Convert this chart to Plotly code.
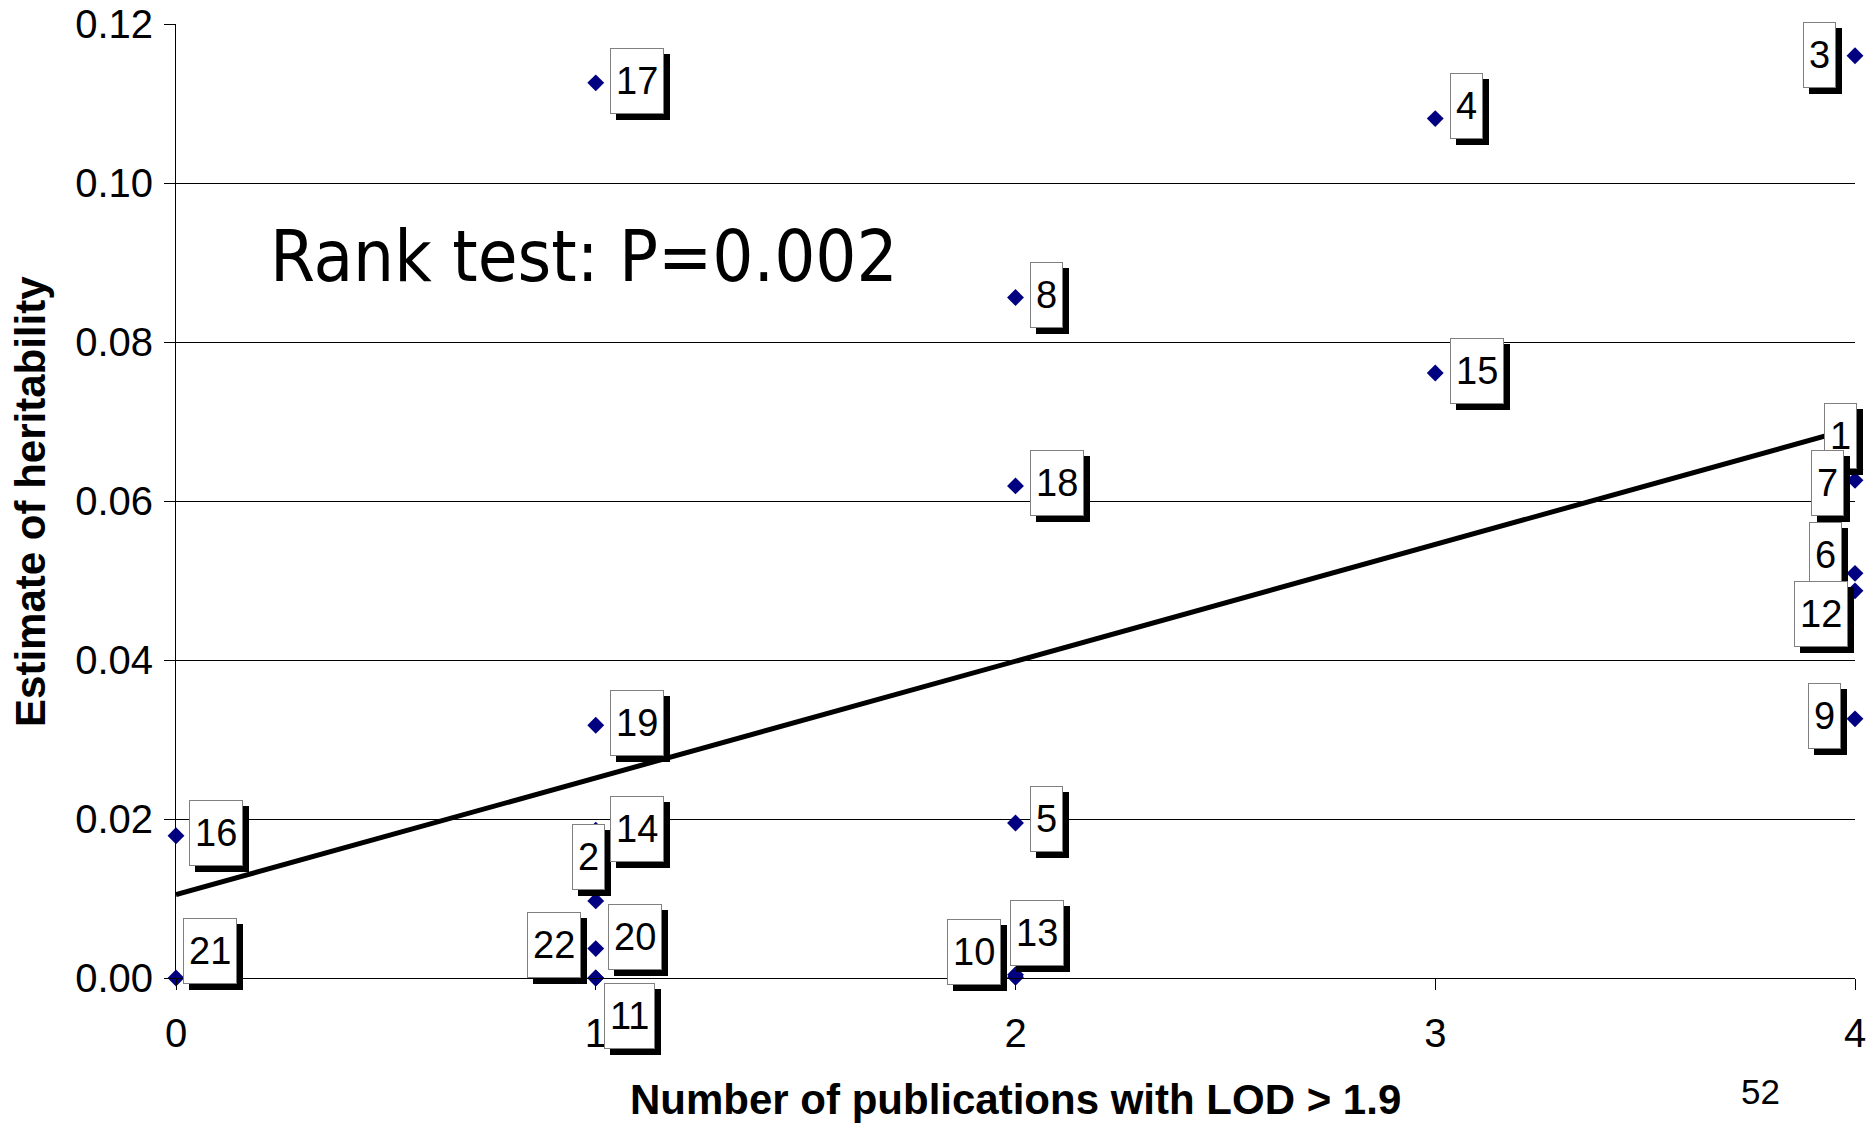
import numpy as np
import plotly.graph_objects as go

# ---------------- data ----------------
ids = [1, 2, 3, 4, 5, 6, 7, 8, 9, 10, 11, 12, 13, 14, 15, 16, 17, 18, 19, 20, 21, 22]
publications = [4, 1, 4, 3, 2, 4, 4, 2, 4, 2, 1, 4, 2, 1, 3, 0, 1, 2, 1, 1, 0, 1]
heritability = [0.0640, 0.0097, 0.1160, 0.1081, 0.0195, 0.0509, 0.0626, 0.0856, 0.0326,
                0.0001, 0.0000, 0.0487, 0.0004, 0.0186, 0.0761, 0.0179, 0.1126, 0.0619,
                0.0318, 0.0037, 0.0000, 0.0000]
x_ticks = [0, 1, 2, 3, 4]
y_ticks = [0.00, 0.02, 0.04, 0.06, 0.08, 0.10, 0.12]
annotation_text = "Rank test: P=0.002"
x_title = "Number of publications with LOD > 1.9"
y_title = "Estimate of heritability"
slide_number = "52"

# ---------------- layout of the data labels (screen px offsets of box centre from point) ----
label_offsets = {
    1: (-15, -33), 2: (-7, -44), 3: (-36, -1), 4: (31, -13), 5: (31, -4),
    6: (-30, -18), 7: (-28, 3), 8: (31, -2), 9: (-31, -3), 10: (-42, -25),
    11: (34, 38), 12: (-34, 23), 13: (21, -42), 14: (41, -1), 15: (42, -2),
    16: (40, -3), 17: (41, -2), 18: (41, -3), 19: (41, -2), 20: (39, -12),
    21: (34, -27), 22: (-42, -33),
}

LABEL_FONT = "Liberation Sans, Arial, sans-serif"

# trend line (ordinary least squares, as Excel's linear trendline)
slope, intercept = np.polyfit(np.array(publications, float), np.array(heritability, float), 1)
trend_x = [min(x_ticks), max(x_ticks)]
trend_y = [intercept + slope * v for v in trend_x]

fig = go.Figure()
fig.add_trace(go.Scatter(
    x=publications, y=heritability, mode="markers",
    marker=dict(symbol="diamond", size=13, color="#000080"),
    cliponaxis=False, showlegend=False, hoverinfo="skip",
))
fig.add_trace(go.Scatter(
    x=trend_x, y=trend_y, mode="lines",
    line=dict(color="black", width=5),
    cliponaxis=False, showlegend=False, hoverinfo="skip",
))

annotations = []
for i, xv, yv in zip(ids, publications, heritability):
    dx, dy = label_offsets[i]
    common = dict(x=xv, y=yv, xref="x", yref="y", text=str(i), showarrow=False,
                  borderwidth=1, borderpad=5, height=54,
                  xanchor="center", yanchor="middle")
    # shadow
    annotations.append(dict(common, font=dict(family=LABEL_FONT, size=38, color="black"),
                            bgcolor="black", bordercolor="black",
                            xshift=dx + 6, yshift=-dy - 6))
    # box
    annotations.append(dict(common, font=dict(family=LABEL_FONT, size=38, color="black"),
                            bgcolor="white", bordercolor="#808080",
                            xshift=dx, yshift=-dy))

annotations.append(dict(
    text=annotation_text, xref="paper", yref="paper", x=0.0546, y=0.757,
    xanchor="left", yanchor="middle", showarrow=False,
    font=dict(family="DejaVu Sans Condensed, DejaVu Sans, sans-serif", size=72, color="black"),
))
annotations.append(dict(
    text="<b>" + x_title + "</b>", xref="paper", yref="paper", x=0.5, y=-0.127,
    xanchor="center", yanchor="middle", showarrow=False,
    font=dict(family=LABEL_FONT, size=42, color="black"),
))
annotations.append(dict(
    text="<b>" + y_title + "</b>", xref="paper", yref="paper", x=-0.087, y=0.5,
    xanchor="center", yanchor="middle", showarrow=False, textangle=-90,
    font=dict(family=LABEL_FONT, size=42, color="black"),
))
annotations.append(dict(
    text=slide_number, xref="paper", yref="paper", x=0.944, y=-0.119,
    xanchor="center", yanchor="middle", showarrow=False,
    font=dict(family=LABEL_FONT, size=35, color="black"),
))

fig.update_layout(
    width=1868, height=1124,
    margin=dict(l=176, r=13, t=24, b=146, autoexpand=False),
    paper_bgcolor="white", plot_bgcolor="white",
    annotations=annotations,
    xaxis=dict(
        range=[0, 4], tickvals=x_ticks, ticktext=[str(v) for v in x_ticks],
        showgrid=False, zeroline=False, showline=True, linecolor="black", linewidth=1,
        ticks="outside", ticklen=11, tickcolor="black", tickwidth=1,
        ticklabelstandoff=9,
        tickfont=dict(family=LABEL_FONT, size=40, color="black"),
    ),
    yaxis=dict(
        range=[0, 0.12], tickvals=y_ticks, ticktext=["%.2f" % v for v in y_ticks],
        showgrid=True, gridcolor="black", gridwidth=1,
        zeroline=False, showline=True, linecolor="black", linewidth=1,
        ticks="outside", ticklen=11, tickcolor="black", tickwidth=1,
        ticklabelstandoff=3,
        tickfont=dict(family=LABEL_FONT, size=40, color="black"),
    ),
)

fig.write_html("out.html")
